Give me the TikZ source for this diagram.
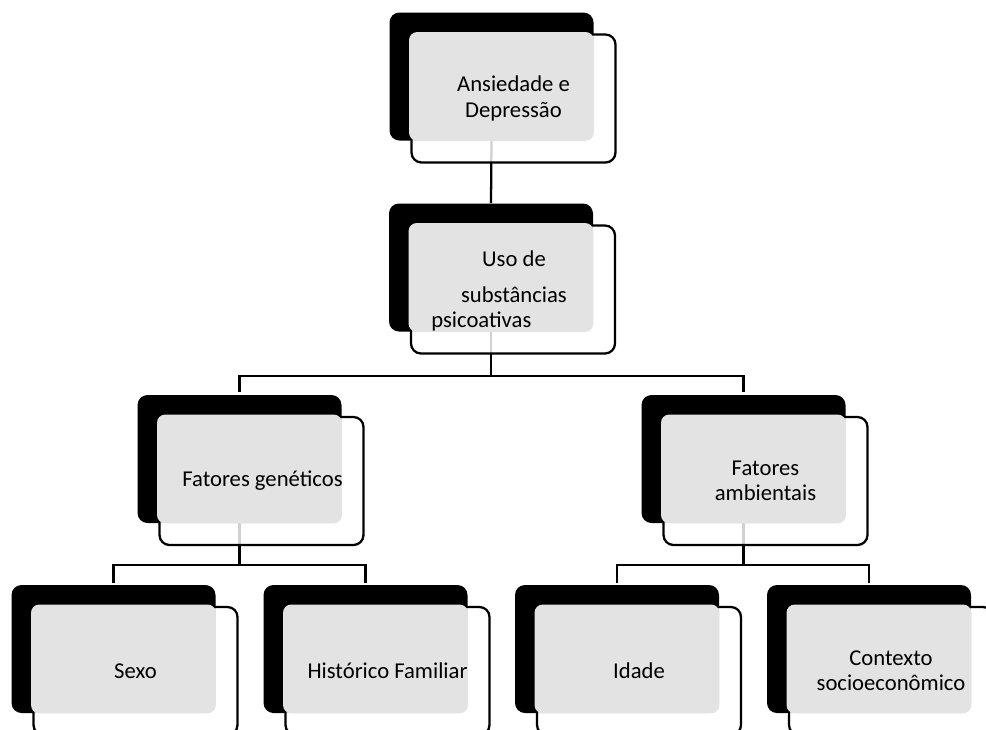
\documentclass[tikz,border=0pt]{standalone}
\usepackage{fontspec}
\setmainfont{Carlito}
\definecolor{grayfill}{RGB}{227,227,227}
\begin{document}
\begin{tikzpicture}[x=0.75pt,y=-0.75pt,
 backbox/.style={rectangle, fill=black, minimum width=153pt, minimum height=96pt, inner sep=0pt, rounded corners=7.5pt},
 frontbox/.style={rectangle, draw=black, line width=1.7pt, fill=white, fill opacity=0.82, minimum width=153pt, minimum height=96pt, inner sep=0pt, rounded corners=7.5pt},
 grayarea/.style={fill=grayfill, rounded corners=6pt},
 boxtext/.style={font=\fontsize{17}{19}\selectfont, align=center, text=black, inner sep=0pt},
 conn/.style={draw=black, line width=1.7pt},
]
\useasboundingbox (0,0) rectangle (986,729);
\clip (0,0) rectangle (986,729);

% back (black) boxes
\node[backbox] (b1) at (491.5,76.5) {};
\node[backbox] (b2) at (491,267.5) {};
\node[backbox] (b3) at (239.5,459) {};
\node[backbox] (b4) at (743.5,459) {};
\node[backbox] (b5) at (113.5,649) {};
\node[backbox] (b6) at (365.5,649) {};
\node[backbox] (b7) at (617,649) {};
\node[backbox] (b8) at (869,649) {};

% connectors
\coordinate (j2) at (491,376);
\coordinate (j3) at (239.5,565);
\coordinate (j4) at (743.5,565);
\draw[conn] (b1.south) -- (b2.north);
\draw[conn] (b2.south) -- (j2);
\draw[conn, shorten <=2pt, shorten >=2pt] (b3.north) |- (j2) -| (b4.north);
\draw[conn] (b3.south) -- (j3);
\draw[conn, shorten <=1.5pt, shorten >=1.5pt] (b5.north) |- (j3) -| (b6.north);
\draw[conn] (b4.south) -- (j4);
\draw[conn, shorten <=1.5pt, shorten >=1.5pt] (b7.north) |- (j4) -| (b8.north);

% front (outlined) boxes
\node[frontbox] (w1) at (513.5,98.5) {};
\node[frontbox] (w2) at (513,289.5) {};
\node[frontbox] (w3) at (261.5,481) {};
\node[frontbox] (w4) at (765.5,481) {};
\node[frontbox] (w5) at (135.5,671) {};
\node[frontbox] (w6) at (387.5,671) {};
\node[frontbox] (w7) at (639,671) {};
\node[frontbox] (w8) at (891,671) {};

% gray overlap areas
\foreach \i in {1,...,8} {
  \fill[grayarea] ([shift={(-1.3,-1.3)}]w\i.north west) rectangle (b\i.south east);
}

% texts
\node[boxtext] (t1) at (w1) {Ansiedade e\\Depressão};
\node[boxtext, anchor=base] (t2a) at (514,266) {Uso de};
\node[boxtext, anchor=base] (t2b) at (514,302) {substâncias};
\node[boxtext, anchor=base west] (t2c) at (431,327) {psicoativas};
\node[boxtext] (t3) at (262.5,481) {Fatores genéticos};
\node[boxtext] (t4) at (w4) {Fatores\\ambientais};
\node[boxtext] (t5) at (w5) {Sexo};
\node[boxtext] (t6) at (w6) {Histórico Familiar};
\node[boxtext] (t7) at (w7) {Idade};
\node[boxtext] (t8) at (891,671) {Contexto\\socioeconômico};
\end{tikzpicture}
\end{document}
